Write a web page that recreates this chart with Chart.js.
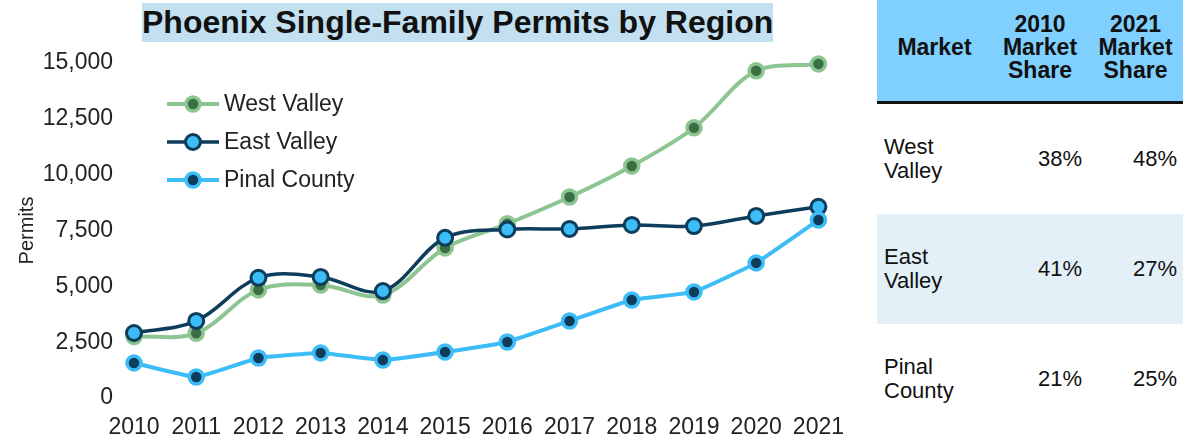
<!DOCTYPE html>
<html>
<head>
<meta charset="utf-8">
<script src="https://cdn.jsdelivr.net/npm/chart.js@4.4.0/dist/chart.umd.min.js"></script>
<style>
  body { margin: 0; background: #fff; font-family: "Liberation Sans", Arial, sans-serif; }
  #titulo {
    position: absolute; left: 142px; top: 3px; width: 631px; height: 39px;
    background: #c2e0f0; color: #111; font-weight: bold; font-size: 32px;
    line-height: 39px; text-align: center; white-space: nowrap;
  }
  #grafico { position: absolute; left: 0; top: 0; width: 860px; height: 440px; }
  #tabela {
    position: absolute; left: 877px; top: 0; width: 306px;
    border-collapse: collapse; font-size: 22px; color: #111;
  }
  #tabela th {
    background: #7fd0ff; font-weight: bold; font-size: 23px; height: 95px; line-height: 23px;
    border-bottom: 3px solid #111; text-align: center; padding: 0 0 6px 0; vertical-align: middle;
  }
  #tabela td { height: 110px; padding: 0; line-height: 24px; vertical-align: middle; }
  #tabela td.nome { text-align: left; padding-left: 7px; }
  #tabela td.num { text-align: right; padding-right: 6px; }
  #tabela tr.azul td { background: #e3f0f8; }
</style>
</head>
<body>
<div id="titulo">Phoenix Single-Family Permits by Region</div>
<div id="grafico"><canvas id="myLineChart" width="860" height="440"></canvas></div>
<table id="tabela">
  <thead>
    <tr>
      <th style="width:115px">Market</th>
      <th style="width:96px">2010<br>Market<br>Share</th>
      <th style="width:95px">2021<br>Market<br>Share</th>
    </tr>
  </thead>
  <tbody id="corpoTabela"></tbody>
</table>
<script>
var anos = ['2010', '2011', '2012', '2013', '2014', '2015', '2016', '2017', '2018', '2019', '2020', '2021'];
var westValley = [2750, 2900, 4840, 5060, 4610, 6720, 7800, 9000, 10390, 12100, 14650, 14960];
var eastValley = [2910, 3450, 5380, 5420, 4790, 7170, 7550, 7570, 7750, 7700, 8150, 8560];
var pinalCounty = [1570, 940, 1790, 2020, 1700, 2060, 2510, 3450, 4390, 4750, 6050, 7970];
var yTicks = [0, 2500, 5000, 7500, 10000, 12500, 15000];

// tabela de participacao
var mercados = [['West', 'Valley'], ['East', 'Valley'], ['Pinal', 'County']];
var share2010 = ['38%', '41%', '21%'];
var share2021 = ['48%', '27%', '25%'];

var verdeClaro = '#8cc592';
var verdeEscuro = '#3c6e44';
var azulMarinho = '#0d3d5b';
var azulClaro = '#3dbdf8';

var linhas = '';
for (var i = 0; i < mercados.length; i++) {
  linhas += '<tr' + (i === 1 ? ' class="azul"' : '') + '>' +
    '<td class="nome">' + mercados[i][0] + '<br>' + mercados[i][1] + '</td>' +
    '<td class="num">' + share2010[i] + '</td>' +
    '<td class="num">' + share2021[i] + '</td></tr>';
}
document.getElementById('corpoTabela').innerHTML = linhas;

var chartdata = {
  labels: anos,
  datasets: [{
    label: 'West Valley',
    data: westValley,
    borderColor: verdeClaro,
    backgroundColor: verdeEscuro,
    borderWidth: 4,
    tension: 0.35,
    pointRadius: 7,
    pointBorderWidth: 3.5,
    pointBorderColor: verdeClaro,
    pointBackgroundColor: verdeEscuro,
    order: 3
  }, {
    label: 'East Valley',
    data: eastValley,
    borderColor: azulMarinho,
    backgroundColor: azulClaro,
    borderWidth: 3.5,
    tension: 0.35,
    pointRadius: 7.5,
    pointBorderWidth: 3,
    pointBorderColor: azulMarinho,
    pointBackgroundColor: azulClaro,
    order: 2
  }, {
    label: 'Pinal County',
    data: pinalCounty,
    borderColor: azulClaro,
    backgroundColor: azulMarinho,
    borderWidth: 4,
    tension: 0.1,
    pointRadius: 7,
    pointBorderWidth: 3.5,
    pointBorderColor: azulClaro,
    pointBackgroundColor: azulMarinho,
    order: 1
  }]
};

// legenda desenhada dentro da area do grafico
var legendaInterna = {
  id: 'legendaInterna',
  afterDatasetsDraw: function (chart) {
    var ctx = chart.ctx;
    var x0 = 167, x1 = 219, yBase = 104, passo = 38;
    ctx.save();
    chart.data.datasets.forEach(function (ds, i) {
      var y = yBase + i * passo;
      ctx.strokeStyle = ds.borderColor;
      ctx.lineWidth = ds.borderWidth;
      ctx.beginPath();
      ctx.moveTo(x0, y);
      ctx.lineTo(x1, y);
      ctx.stroke();
      ctx.beginPath();
      ctx.arc((x0 + x1) / 2, y, ds.pointRadius, 0, Math.PI * 2);
      ctx.fillStyle = ds.pointBackgroundColor;
      ctx.fill();
      ctx.lineWidth = ds.pointBorderWidth;
      ctx.strokeStyle = ds.pointBorderColor;
      ctx.stroke();
      ctx.fillStyle = '#222';
      ctx.font = '23px "Liberation Sans", Arial, sans-serif';
      ctx.textBaseline = 'middle';
      ctx.textAlign = 'left';
      ctx.fillText(ds.label, 224, y + 1);
    });
    ctx.restore();
  }
};

var ctx1 = document.getElementById('myLineChart');
var lineGraph = new Chart(ctx1, {
  type: 'line',
  data: chartdata,
  plugins: [legendaInterna],
  options: {
    responsive: false,
    animation: false,
    layout: { padding: { top: 63, right: 26, left: 0, bottom: 0 } },
    datasets: { line: { clip: false } },
    plugins: {
      legend: { display: false },
      title: { display: false },
      tooltip: { enabled: false }
    },
    scales: {
      x: {
        offset: false,
        grid: { display: false, drawTicks: false },
        border: { display: false },
        ticks: {
          color: '#222',
          padding: 16,
          maxRotation: 0,
          font: { family: '"Liberation Sans", Arial, sans-serif', size: 23 }
        },
        afterFit: function (scale) { scale.height = 42; }
      },
      y: {
        min: 0,
        max: 15000,
        grid: { display: false, drawTicks: false },
        border: { display: false },
        afterBuildTicks: function (scale) {
          scale.ticks = yTicks.map(function (v) { return { value: v }; });
        },
        ticks: {
          color: '#222',
          padding: 21,
          font: { family: '"Liberation Sans", Arial, sans-serif', size: 23 },
          callback: function (v) { return v.toLocaleString('en-US'); }
        },
        title: {
          display: true,
          text: 'Permits',
          color: '#222',
          padding: { top: 15, bottom: 0 },
          font: { family: '"Liberation Sans", Arial, sans-serif', size: 20 }
        },
        afterFit: function (scale) { scale.width = 134; }
      }
    }
  }
});
</script>
</body>
</html>
